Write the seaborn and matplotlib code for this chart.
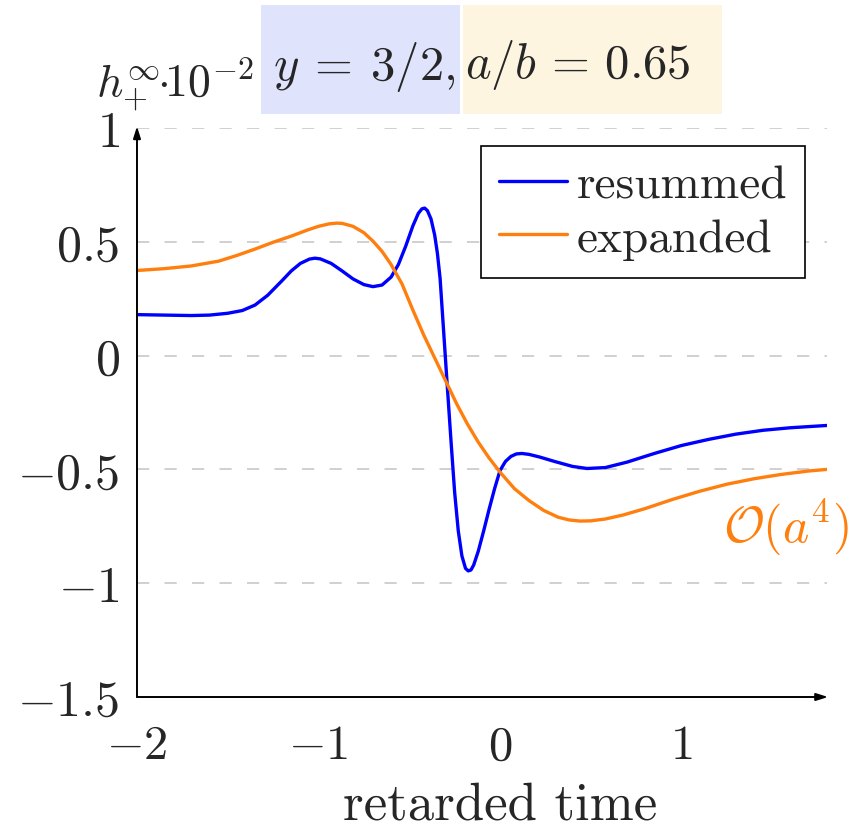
import pandas as pd
import matplotlib
matplotlib.use("Agg")
import matplotlib.pyplot as plt
from matplotlib.patches import Rectangle
import seaborn as sns

# values
t_resummed = [-2.00, -1.85, -1.70, -1.60, -1.50, -1.42, -1.35, -1.28, -1.20, -1.15,
              -1.10, -1.05, -1.02, -0.99, -0.93, -0.87, -0.81, -0.75, -0.70, -0.65,
              -0.60, -0.56, -0.52, -0.48, -0.45, -0.43, -0.415, -0.40, -0.38, -0.36,
              -0.345, -0.33, -0.31, -0.29, -0.27, -0.25, -0.23, -0.21, -0.19, -0.175,
              -0.16, -0.145, -0.12, -0.09, -0.06, -0.03, 0.00, 0.03, 0.06, 0.09,
              0.12, 0.16, 0.22, 0.30, 0.40, 0.48, 0.58, 0.70, 0.85, 1.00,
              1.15, 1.30, 1.45, 1.60, 1.80]
h_resummed = [0.180, 0.178, 0.176, 0.178, 0.186, 0.198, 0.222, 0.265, 0.330, 0.372,
              0.405, 0.424, 0.428, 0.425, 0.405, 0.372, 0.337, 0.312, 0.303, 0.310,
              0.345, 0.400, 0.480, 0.570, 0.625, 0.645, 0.648, 0.637, 0.600, 0.530,
              0.450, 0.338, 0.100, -0.140, -0.375, -0.600, -0.770, -0.880, -0.935, -0.946,
              -0.942, -0.920, -0.860, -0.770, -0.675, -0.585, -0.505, -0.465, -0.443, -0.432,
              -0.430, -0.434, -0.446, -0.465, -0.487, -0.496, -0.492, -0.468, -0.430, -0.395,
              -0.368, -0.345, -0.328, -0.317, -0.307]

t_expanded = [-2.00, -1.85, -1.70, -1.55, -1.45, -1.35, -1.25, -1.15, -1.06, -1.00,
              -0.94, -0.90, -0.87, -0.81, -0.75, -0.70, -0.65, -0.60, -0.54, -0.48,
              -0.42, -0.36, -0.30, -0.24, -0.18, -0.12, -0.06, 0.00, 0.08, 0.16,
              0.24, 0.32, 0.38, 0.44, 0.50, 0.58, 0.68, 0.80, 0.95, 1.10,
              1.25, 1.40, 1.55, 1.70, 1.80]
h_expanded = [0.374, 0.382, 0.394, 0.415, 0.440, 0.468, 0.498, 0.525, 0.552, 0.568,
              0.579, 0.582, 0.581, 0.568, 0.540, 0.503, 0.458, 0.400, 0.315, 0.200,
              0.090, -0.010, -0.110, -0.210, -0.300, -0.380, -0.450, -0.512, -0.585, -0.637,
              -0.680, -0.710, -0.722, -0.727, -0.726, -0.718, -0.700, -0.672, -0.632, -0.596,
              -0.565, -0.541, -0.522, -0.507, -0.500]

x_ticks = [-2, -1, 0, 1]
y_ticks = [-1.5, -1, -0.5, 0, 0.5, 1]
grid_levels = [-1, -0.5, 0, 0.5, 1]

BLUE = "#0000ff"
ORANGE = "#ff7f0e"

df = pd.concat([
    pd.DataFrame({"t": t_resummed, "h": h_resummed, "series": "resummed"}),
    pd.DataFrame({"t": t_expanded, "h": h_expanded, "series": "expanded"}),
])

sns.set_style("white")
plt.rcParams["mathtext.fontset"] = "cm"
plt.rcParams["font.family"] = ["cmr10", "DejaVu Serif"]
plt.rcParams["axes.formatter.use_mathtext"] = True

FS = 35

fig = plt.figure(figsize=(8.53, 8.28), dpi=100)
ax = fig.add_axes([0.1606, 0.1570, 0.8086, 0.6872])

# horizontal dashed grid
for g in grid_levels:
    ax.axhline(g, color="#c4c4c4", lw=1.1, dashes=(8, 10), zorder=0)

sns.lineplot(data=df, x="t", y="h", hue="series", palette={"resummed": BLUE, "expanded": ORANGE},
             estimator=None, sort=False, lw=2.4, ax=ax, solid_joinstyle="round", solid_capstyle="round")

ax.set_xlim(-2, 1.8)
ax.set_ylim(-1.5, 1)
for s in ax.spines.values():
    s.set_visible(False)

ax.set_xticks(x_ticks)
ax.set_xticklabels([f"${v:g}$" for v in x_ticks], fontsize=FS)
ax.set_yticks(y_ticks)
ax.set_yticklabels([f"${v:g}$" for v in y_ticks], fontsize=36)
ax.tick_params(axis="both", direction="inout", length=13, width=0.9, color="#b0b0b0")
ax.tick_params(axis="x", pad=13)
ax.tick_params(axis="y", pad=6)
ax.set_xlabel("retarded time", fontsize=38)
ax.xaxis.set_label_coords(0.527, -0.148)
ax.set_ylabel("")

# axis arrows
arrow = dict(arrowstyle="-|>,head_length=0.7,head_width=0.22", lw=1.4, color="black",
             shrinkA=0, shrinkB=0)
ax.annotate("", xy=(1.002, 0), xytext=(0, 0), xycoords="axes fraction", arrowprops=arrow)
ax.annotate("", xy=(0, 1.003), xytext=(0, 0), xycoords="axes fraction", arrowprops=arrow)

leg = ax.legend(loc="upper right", bbox_to_anchor=(0.9685, 0.968), frameon=True, fancybox=False,
                edgecolor="black", framealpha=1, borderaxespad=0, handlelength=1.45,
                handletextpad=0.2, borderpad=0.38, labelspacing=0.24,
                prop={"family": "cmr10", "size": 34})
leg.get_frame().set_linewidth(1.2)
for line in leg.get_lines():
    line.set_linewidth(2.4)

# y label at the top of the axis
fig.text(96 / 853, 1 - 97 / 828, r"$h_{+}^{\infty}\!\!\cdot\!\!10^{-2}$", fontsize=33,
         ha="left", va="baseline")

# parameter boxes above the plot
fig.patches.append(Rectangle((261 / 853, 1 - 115 / 828), 199 / 853, 109 / 828,
                             transform=fig.transFigure, facecolor="#dfe3fb", edgecolor="none"))
fig.patches.append(Rectangle((463 / 853, 1 - 115 / 828), 259 / 853, 109 / 828,
                             transform=fig.transFigure, facecolor="#fef5e1", edgecolor="none"))
fig.text(456 / 853, 1 - 80 / 828, r"$y\:=\:3/2,$", fontsize=FS, ha="right", va="baseline")
fig.text(465 / 853, 1 - 78 / 828, r"$a/b\,=\,0.65$", fontsize=FS, ha="left", va="baseline")

# order label next to the expanded curve
fig.text(723 / 853, 1 - 543 / 828, r"$\mathcal{O}(a^4)$", fontsize=36, color=ORANGE,
         ha="left", va="baseline")

fig.savefig("out.png", dpi=100)
